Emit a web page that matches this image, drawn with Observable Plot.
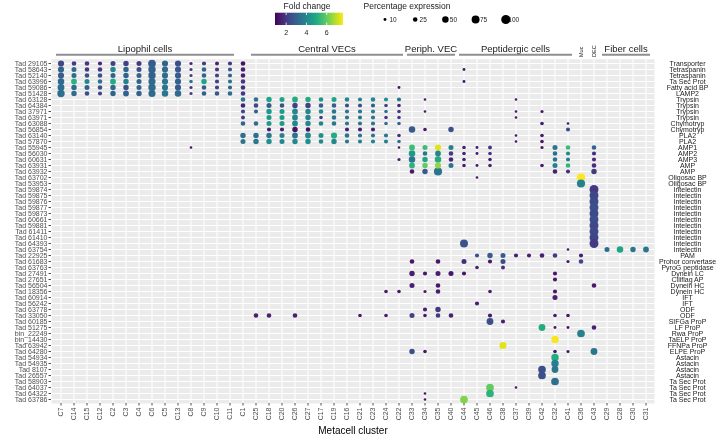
<!DOCTYPE html>
<html><head><meta charset="utf-8">
<script src="https://cdn.jsdelivr.net/npm/d3@7"></script>
<script src="https://cdn.jsdelivr.net/npm/@observablehq/plot@0.6"></script>
<style>
body{margin:0;background:#fff;}
#wrap{position:relative;width:720px;height:445px;overflow:hidden;background:#fff;}
#wrap svg{font-family:"Liberation Sans",Arial,sans-serif;will-change:transform;transform:translateZ(0);background:transparent !important;}
</style></head><body><div id="wrap"></div>
<script>
// ---------- categories ----------
const clusters = ["C7","C14","C15","C12","C2","C3","C4","C6","C5","C13","C8","C9","C10","C11","C1",
  "C25","C18","C20","C26","C27","C17","C19","C16","C21","C23","C24","C22",
  "C33","C34","C35","C40","C44","C45","C46","C38","C37","C39","C42","C32","C41","C36","C43",
  "C29","C28","C30","C31"];
const genes = ["Tad 29105","Tad 58643","Tad 52140","Tad 63996","Tad 59086","Tad 51428","Tad 63128","Tad 64384",
  "Tad 37971","Tad 63971","Tad 63088","Tad 56854","Tad 63140","Tad 57870","Tad 55945","Tad 56030","Tad 60631",
  "Tad 63931","Tad 63932","Tad 63702","Tad 53953","Tad 59874","Tad 59875","Tad 59876","Tad 59877","Tad 59873",
  "Tad 60661","Tad 59881","Tad 61411","Tad 61410","Tad 64393","Tad 63754","Tad 22925","Tad 61683","Tad 63763",
  "Tad 27491","Tad 27651","Tad 56504","Tad 18356","Tad 60914","Tad 56242","Tad 63778","Tad 33050","Tad 60185",
  "Tad 51275","bin_22249","bin_14430","Tad 63942","Tad 64280","Tad 54934","Tad 54935","Tad 8107","Tad 26557",
  "Tad 58903","Tad 64037","Tad 64322","Tad 63786"];
const annotations = ["Transporter","Tetraspanin","Tetraspanin","Ta Sec Prot","Fatty acid BP","LAMP2",
  "Trypsin","Trypsin","Trypsin","Trypsin","Chymotryp","Chymotryp","PLA2","PLA2","AMP1","AMP2","AMP3","AMP","AMP",
  "Oligosac BP","Oligosac BP","Intelectin","Intelectin","Intelectin","Intelectin","Intelectin","Intelectin",
  "Intelectin","Intelectin","Intelectin","Intelectin","Intelectin","PAM","Prohor convertase","PyroG peptidase",
  "Dynein LC","Ciliflag AP","Dynein HC","Dynein HC","IFT","IFT","ODF","ODF","SIFGa ProP","LF ProP","Rwa ProP",
  "TaELP ProP","FFNPa ProP","ELPE ProP","Astacin","Astacin","Astacin","Astacin",
  "Ta Sec Prot","Ta Sec Prot","Ta Sec Prot","Ta Sec Prot"];

// ---------- cell groups (header bars) ----------
const groupLabels = ["Lipophil cells","Central VECs","Periph. VEC","Peptidergic cells","Fiber cells"];
const groupFirst  = ["C7","C25","C33","C44","C29"];
const groupLast   = ["C11","C22","C40","C41","C31"];
const singleLabels   = ["Muc","DEC"];
const singleClusters = ["C36","C43"];

// ---------- legend values ----------
const foldTicks = [2, 4, 6];
const foldDomain = [0.9, 7.6];
const pctLegend = [10, 25, 50, 75, 100];

// ---------- block 1: lipophil genes x lipophil clusters ----------
const lipoGenes = ["Tad 29105","Tad 58643","Tad 52140","Tad 63996","Tad 59086","Tad 51428"];
const lipoClusters = ["C7","C14","C15","C12","C2","C3","C4","C6","C5","C13","C8","C9","C10","C11","C1"];
const lipoFold = [
  [2.3,2.0,2.0,1.6,2.2,2.2,2.0,2.8,3.0,2.5,1.5,2.0,1.5,2.0,1.2],
  [3.0,3.2,2.0,2.0,4.0,3.0,2.5,3.0,3.2,2.8,2.0,3.0,2.0,2.8,1.5],
  [2.8,3.2,2.5,2.5,3.0,3.0,3.0,3.0,3.2,2.8,2.0,3.0,2.2,3.0,1.5],
  [3.2,5.2,4.0,3.5,5.0,3.8,3.0,3.2,3.5,3.0,3.5,4.8,2.2,3.5,2.0],
  [3.3,3.2,3.0,2.5,3.2,2.5,3.0,3.2,3.5,2.8,1.8,2.8,2.2,3.0,1.8],
  [3.3,3.2,2.5,2.2,3.0,3.0,3.0,3.2,3.5,3.2,2.0,2.8,2.8,3.2,2.0]];
const lipoPct = [
  [45,25,25,20,30,35,30,70,45,45,12,20,18,20,25],
  [45,30,25,25,35,35,30,65,45,45,12,25,20,20,25],
  [45,30,25,25,30,35,30,65,45,45,12,25,20,20,25],
  [50,40,30,25,40,35,30,60,45,45,15,35,20,20,25],
  [55,35,30,25,35,35,30,65,45,45,12,25,20,20,25],
  [65,35,25,20,35,40,35,60,50,50,12,25,25,25,25]];

// ---------- block 2: central VEC genes x central VEC clusters ----------
const vecGenes = ["Tad 63128","Tad 64384","Tad 37971","Tad 63971","Tad 63088","Tad 56854","Tad 63140","Tad 57870"];
const vecClusters = ["C1","C25","C18","C20","C26","C27","C17","C19","C16","C21","C23","C24","C22"];
const vecFold = [
  [3.5,3.3,4.8,4.8,5.0,5.0,4.3,4.8,4.0,3.8,4.0,4.2,3.5],
  [1.5,2.3,2.8,2.5,2.2,2.2,2.8,2.8,2.5,2.5,2.8,2.2,1.6],
  [2.3,3.0,4.5,4.5,4.0,4.0,4.2,3.5,3.5,3.5,3.8,3.5,2.0],
  [2.0,null,4.5,4.5,4.0,4.0,2.0,3.5,3.5,3.5,3.5,2.0,2.0],
  [3.0,3.2,4.5,4.5,4.0,4.0,3.8,3.5,3.5,3.5,3.5,3.3,3.0],
  [null,null,1.5,1.5,1.2,1.2,null,null,1.5,1.5,1.5,null,null],
  [3.3,3.3,3.5,3.8,3.5,4.0,4.3,5.0,3.5,3.3,3.5,3.5,1.8],
  [3.5,3.5,4.3,4.0,4.0,4.2,4.0,4.0,3.5,3.8,3.8,3.8,3.3]];
const vecPct = [
  [25,25,35,30,40,35,25,30,25,20,25,20,20],
  [25,25,30,25,35,35,25,25,20,20,20,15,15],
  [20,20,35,30,40,35,25,25,20,20,20,15,15],
  [18,null,30,30,40,35,15,25,20,20,20,15,15],
  [25,25,30,30,40,35,25,25,20,20,20,15,15],
  [null,null,20,20,35,25,null,null,20,20,20,null,null],
  [35,35,35,30,40,40,30,45,25,20,20,20,15],
  [30,35,35,30,35,35,25,35,20,20,20,20,15]];

// ---------- remaining dots: [gene, cluster, fold change, % expression] ----------
const otherDots = [
  ["Tad 58643","C44",1.3,10],["Tad 63996","C44",1.3,10],["Tad 59086","C22",1.3,10],
  ["Tad 63128","C34",1.3,8],["Tad 63128","C37",1.3,8],
  ["Tad 37971","C34",1.3,8],["Tad 37971","C37",1.3,8],["Tad 37971","C42",1.3,12],
  ["Tad 63971","C37",1.3,8],
  ["Tad 63088","C42",1.3,15],["Tad 63088","C41",1.3,8],
  ["Tad 56854","C33",2.8,50],["Tad 56854","C34",1.3,15],["Tad 56854","C40",2.5,35],["Tad 56854","C41",2.5,20],
  ["Tad 63140","C37",1.3,8],["Tad 63140","C42",1.3,15],
  ["Tad 57870","C37",1.3,8],["Tad 57870","C42",1.3,15],
  ["Tad 55945","C8",1.2,8],["Tad 55945","C22",1.3,8],["Tad 55945","C33",5.5,40],["Tad 55945","C34",5.5,30],
  ["Tad 55945","C35",7.3,45],["Tad 55945","C40",3.8,30],["Tad 55945","C44",1.5,15],["Tad 55945","C45",1.3,10],
  ["Tad 55945","C46",2.0,18],["Tad 55945","C42",1.3,12],["Tad 55945","C32",3.5,30],["Tad 55945","C41",5.5,25],
  ["Tad 55945","C43",3.0,25],
  ["Tad 56030","C33",4.5,50],["Tad 56030","C34",3.5,25],["Tad 56030","C35",4.0,40],["Tad 56030","C40",2.0,25],
  ["Tad 56030","C44",1.5,15],["Tad 56030","C45",1.3,10],["Tad 56030","C46",1.8,15],["Tad 56030","C32",3.3,25],
  ["Tad 56030","C41",4.0,20],["Tad 56030","C43",1.8,20],
  ["Tad 60631","C22",1.5,12],["Tad 60631","C33",3.5,50],["Tad 60631","C34",4.8,35],["Tad 60631","C35",5.0,50],
  ["Tad 60631","C40",1.6,25],["Tad 60631","C44",1.5,15],["Tad 60631","C46",1.5,15],["Tad 60631","C32",3.5,25],
  ["Tad 60631","C41",3.8,20],["Tad 60631","C43",1.8,20],
  ["Tad 63931","C33",5.2,40],["Tad 63931","C34",6.0,35],["Tad 63931","C35",6.5,45],["Tad 63931","C40",3.5,30],
  ["Tad 63931","C44",1.5,15],["Tad 63931","C45",1.3,10],["Tad 63931","C46",1.5,15],["Tad 63931","C42",1.3,15],
  ["Tad 63931","C32",3.8,30],["Tad 63931","C41",5.3,25],["Tad 63931","C43",1.8,25],
  ["Tad 63932","C33",1.3,25],["Tad 63932","C34",2.8,35],["Tad 63932","C35",3.5,80],["Tad 63932","C32",1.5,25],
  ["Tad 63932","C41",1.8,20],["Tad 63932","C43",2.0,35],
  ["Tad 63702","C45",1.3,8],["Tad 63702","C36",7.6,85],
  ["Tad 53953","C36",3.8,80],
  ["Tad 59874","C43",2.0,95],["Tad 59875","C43",2.3,95],["Tad 59876","C43",2.4,95],["Tad 59877","C43",2.5,95],
  ["Tad 59873","C43",2.4,95],["Tad 60661","C43",2.5,95],["Tad 59881","C43",2.3,95],["Tad 61411","C43",2.4,95],
  ["Tad 61410","C43",2.3,95],["Tad 64393","C43",2.0,95],["Tad 64393","C44",2.6,75],
  ["Tad 63754","C41",1.3,8],["Tad 63754","C29",3.2,30],["Tad 63754","C28",4.8,50],["Tad 63754","C30",3.5,35],
  ["Tad 63754","C31",3.5,40],
  ["Tad 22925","C45",2.5,20],["Tad 22925","C46",2.8,35],["Tad 22925","C38",2.8,30],["Tad 22925","C37",1.5,20],
  ["Tad 22925","C39",1.5,20],["Tad 22925","C42",1.5,25],["Tad 22925","C32",2.0,25],["Tad 22925","C36",1.5,20],
  ["Tad 61683","C33",1.3,25],["Tad 61683","C35",1.3,25],["Tad 61683","C44",1.8,30],["Tad 61683","C46",1.3,20],
  ["Tad 61683","C38",2.5,30],["Tad 61683","C41",1.3,12],["Tad 61683","C36",2.3,25],
  ["Tad 63763","C45",1.5,15],["Tad 63763","C38",1.8,18],
  ["Tad 27491","C33",1.5,35],["Tad 27491","C34",1.3,20],["Tad 27491","C35",1.5,30],["Tad 27491","C40",1.3,30],
  ["Tad 27491","C44",1.3,20],["Tad 27491","C32",1.3,20],
  ["Tad 27651","C32",1.3,20],
  ["Tad 56504","C33",1.5,30],["Tad 56504","C35",1.3,25],["Tad 56504","C43",1.3,25],
  ["Tad 18356","C24",1.3,15],["Tad 18356","C22",1.3,15],["Tad 18356","C34",1.3,12],["Tad 18356","C35",1.5,25],
  ["Tad 18356","C46",1.3,15],["Tad 18356","C32",1.3,20],
  ["Tad 60914","C32",1.5,30],
  ["Tad 56242","C45",1.5,20],
  ["Tad 63778","C34",1.5,20],["Tad 63778","C35",2.0,35],
  ["Tad 33050","C25",1.5,25],["Tad 33050","C18",1.5,25],["Tad 33050","C26",1.5,25],["Tad 33050","C21",1.3,15],
  ["Tad 33050","C24",1.3,15],["Tad 33050","C33",2.2,30],["Tad 33050","C34",1.3,15],["Tad 33050","C35",2.0,25],
  ["Tad 33050","C40",1.5,25],["Tad 33050","C46",1.3,20],["Tad 33050","C32",1.3,15],["Tad 33050","C41",1.3,15],
  ["Tad 60185","C46",2.5,55],["Tad 60185","C38",1.5,20],
  ["Tad 51275","C42",5.0,55],["Tad 51275","C32",1.3,10],["Tad 51275","C41",1.3,10],["Tad 51275","C43",1.5,25],
  ["bin_22249","C36",3.8,70],
  ["bin_14430","C32",7.5,65],
  ["Tad 63942","C38",7.3,60],
  ["Tad 64280","C33",2.5,35],["Tad 64280","C34",1.3,15],["Tad 64280","C32",1.3,15],["Tad 64280","C41",1.3,12],
  ["Tad 64280","C43",3.5,55],
  ["Tad 54934","C32",5.0,65],
  ["Tad 54935","C32",3.8,65],
  ["Tad 8107","C32",3.5,55],["Tad 8107","C42",2.5,70],
  ["Tad 26557","C42",2.5,70],
  ["Tad 58903","C32",3.3,70],
  ["Tad 64037","C46",6.0,70],["Tad 64037","C37",1.3,8],
  ["Tad 64322","C34",1.3,8],["Tad 64322","C46",5.2,70],
  ["Tad 63786","C34",1.3,8],["Tad 63786","C44",6.3,70]
];

// ---------- assemble table ----------
const dots = [];
lipoGenes.forEach((g, i) => lipoClusters.forEach((c, j) => {
  if (lipoFold[i][j] != null) dots.push({gene: g, cluster: c, fold: lipoFold[i][j], pct: lipoPct[i][j]});
}));
vecGenes.forEach((g, i) => vecClusters.forEach((c, j) => {
  if (vecFold[i][j] != null) dots.push({gene: g, cluster: c, fold: vecFold[i][j], pct: vecPct[i][j]});
}));
otherDots.forEach(([g, c, f, p]) => dots.push({gene: g, cluster: c, fold: f, pct: p}));
const rowLabels = genes.map((g, i) => ({gene: g, note: annotations[i]}));

const FONT = "Liberation Sans, Arial, sans-serif";
const plot = Plot.plot({
  width: 720, height: 445,
  marginLeft: 51, marginRight: 66, marginTop: 58.7, marginBottom: 42,
  style: {fontFamily: FONT, background: "transparent", overflow: "visible"},
  x: {type: "band", domain: clusters, padding: 0},
  y: {type: "band", domain: genes, padding: 0},
  r: {type: "sqrt", domain: [0, 100], range: [0, 4.6]},
  color: {type: "linear", scheme: "viridis", domain: foldDomain, clamp: true},
  marks: [
    Plot.frame({fill: "#ebebeb", stroke: null}),
    Plot.gridX({stroke: "white", strokeOpacity: 1, strokeWidth: 1.1}),
    Plot.gridY({stroke: "white", strokeOpacity: 1, strokeWidth: 1.1}),
    Plot.dot(dots, {x: "cluster", y: "gene", r: "pct", fill: "fold"}),
    Plot.axisY({anchor: "left", tickSize: 2.5, tickPadding: 1.5, fontSize: 7, color: "#4d4d4d", label: null}),
    Plot.text(rowLabels, {y: "gene", text: "note", frameAnchor: "right", dx: 33, textAnchor: "middle",
      fontSize: 7, fill: "#1a1a1a"}),
    Plot.axisX({anchor: "bottom", tickRotate: -90, tickSize: 2.5, tickPadding: 1.5, fontSize: 7,
      color: "#4d4d4d", label: null}),
    Plot.text(["Metacell cluster"], {frameAnchor: "bottom", dy: 30, fontSize: 10, fill: "black"})
  ]
});
document.getElementById("wrap").appendChild(plot);

// ---------- overlay: group headers and legends, placed with the plot's scales ----------
const svg = d3.select(plot);
const sx = plot.scale("x");
const bw = sx.bandwidth ?? (sx.apply(clusters[1]) - sx.apply(clusters[0]));
const left = c => sx.apply(c);
const center = c => sx.apply(c) + bw / 2;
const hdr = svg.append("g").attr("font-family", FONT);
groupLabels.forEach((lab, i) => {
  const x1 = left(groupFirst[i]) + 2, x2 = left(groupLast[i]) + bw - 2;
  hdr.append("line").attr("x1", x1).attr("x2", x2).attr("y1", 54.8).attr("y2", 54.8)
    .attr("stroke", "#8f8f8f").attr("stroke-width", 2);
  hdr.append("text").attr("x", (x1 + x2) / 2).attr("y", 52).attr("text-anchor", "middle")
    .attr("font-size", 9.5).attr("fill", "#1a1a1a").text(lab);
});
singleLabels.forEach((lab, i) => {
  const x = center(singleClusters[i]);
  hdr.append("text").attr("transform", `translate(${x + 2},57) rotate(-90)`).attr("text-anchor", "start")
    .attr("font-size", 5.5).attr("fill", "#1a1a1a").text(lab);
});

// colour bar legend
const col = plot.scale("color");
const leg = svg.append("g").attr("font-family", FONT);
const barX0 = 275, barX1 = 343, barY0 = 12.7, barY1 = 25;
const grad = svg.append("defs").append("linearGradient").attr("id", "fcgrad");
d3.range(0, 1.0001, 0.05).forEach(t => {
  const v = foldDomain[0] + t * (foldDomain[1] - foldDomain[0]);
  grad.append("stop").attr("offset", t).attr("stop-color", col.apply(v));
});
leg.append("rect").attr("x", barX0).attr("y", barY0).attr("width", barX1 - barX0).attr("height", barY1 - barY0)
  .attr("fill", "url(#fcgrad)");
const bx = d3.scaleLinear().domain(foldDomain).range([barX0, barX1]);
foldTicks.forEach(v => {
  leg.append("line").attr("x1", bx(v)).attr("x2", bx(v)).attr("y1", barY0).attr("y2", barY0 + 2.4).attr("stroke", "white").attr("stroke-width", 0.8);
  leg.append("line").attr("x1", bx(v)).attr("x2", bx(v)).attr("y1", barY1 - 2.4).attr("y2", barY1).attr("stroke", "white").attr("stroke-width", 0.8);
  leg.append("text").attr("x", bx(v)).attr("y", 35.2).attr("text-anchor", "middle").attr("font-size", 7)
    .attr("fill", "#1a1a1a").text(v);
});
leg.append("text").attr("x", 307).attr("y", 8.8).attr("text-anchor", "middle").attr("font-size", 8.5)
  .attr("fill", "#1a1a1a").text("Fold change");

// size legend
const rs = plot.scale("r");
leg.append("text").attr("x", 407).attr("y", 8.8).attr("font-size", 8.5).attr("fill", "#1a1a1a")
  .text("Percentage expression");
pctLegend.forEach((v, i) => {
  const x = 385 + i * 30.2;
  leg.append("circle").attr("cx", x).attr("cy", 19.5).attr("r", rs.apply(v)).attr("fill", "black");
  leg.append("text").attr("x", x + 8).attr("y", 21.8).attr("font-size", 6.5).attr("fill", "#1a1a1a").text(v);
});
</script></body></html>
